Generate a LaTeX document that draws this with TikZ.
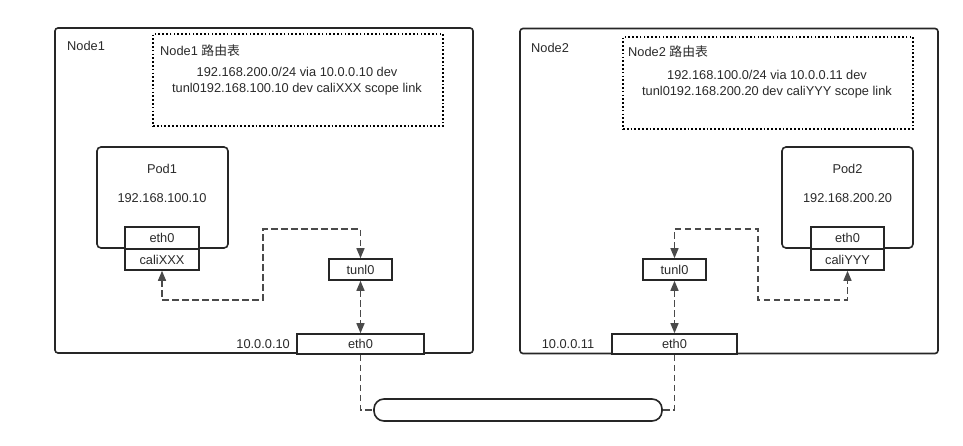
\documentclass[tikz,border=0pt]{standalone}
\usepackage{fontspec}
\setmainfont{Liberation Sans}
\newfontfamily\cjk{Noto Sans CJK SC}
\usetikzlibrary{arrows.meta}
\definecolor{txt}{HTML}{2A2A2A}
\definecolor{edge}{HTML}{262626}
\definecolor{conn}{HTML}{4A4A4A}
\tikzset{
  hostbox/.style={draw=edge, line width=1.6pt, rounded corners=3pt, inner sep=0pt},
  routebox/.style={draw=black, line width=1.7pt, dash pattern=on 1.7pt off 2.1pt, inner sep=0pt},
  podbox/.style={draw=edge, line width=1.6pt, rounded corners=4pt, inner sep=0pt},
  ifbox/.style={draw=edge, line width=1.6pt, fill=white, inner sep=0pt, font=\fontsize{12.8}{14}\selectfont, text=txt},
  pill/.style={draw=edge, line width=1.6pt, rounded corners=10pt, inner sep=0pt, fill=white},
  lbl/.style={font=\fontsize{12.8}{16}\selectfont, text=txt, inner sep=0pt},
  connline/.style={draw=conn, line width=1.4pt, dash pattern=on 6.5pt off 3.5pt},
  tip/.style={arrows={Triangle[length=10pt,width=8pt]-Triangle[length=10pt,width=8pt]}},
}
\begin{document}
\begin{tikzpicture}[x=1pt,y=-1pt]
\useasboundingbox (0,0) rectangle (963,446);
\fill[white] (0,0) rectangle (963,446);

% Node1
\node[hostbox, minimum width=418, minimum height=325] (node1) at (264,190.5) {};
\node[lbl, anchor=west] (n1lbl) at (67,46) {Node1};
\node[routebox, minimum width=290, minimum height=92] (rt1) at (298,80) {};
\node[lbl, anchor=west] (rt1t) at (160,51) {Node1 {\cjk 路由表}};
\node[lbl, align=center] (rt1l) at (297,81) {192.168.200.0/24 via 10.0.0.10 dev\\tunl0192.168.100.10 dev caliXXX scope link};
\node[podbox, minimum width=131, minimum height=101] (pod1) at (162.5,197.5) {};
\node[lbl] (pod1n) at (162,169) {Pod1};
\node[lbl] (pod1ip) at (162,198) {192.168.100.10};
\node[ifbox, minimum width=74, minimum height=22] (eth1p) at (162,238) {eth0};
\node[ifbox, minimum width=74, minimum height=21] (cali1) at (162,259.5) {caliXXX};
\node[ifbox, minimum width=63, minimum height=21] (tunl1) at (360.5,269.5) {tunl0};
\node[ifbox, minimum width=127, minimum height=20] (eth1) at (360.5,344) {eth0};
\node[lbl, anchor=east] (ip1) at (290,344) {10.0.0.10};

% Node2
\node[hostbox, minimum width=418, minimum height=325] (node2) at (729,191) {};
\node[lbl, anchor=west] (n2lbl) at (531,48) {Node2};
\node[routebox, minimum width=290, minimum height=92] (rt2) at (768,83) {};
\node[lbl, anchor=west] (rt2t) at (628,52) {Node2 {\cjk 路由表}};
\node[lbl, align=center] (rt2l) at (767,84) {192.168.100.0/24 via 10.0.0.11 dev\\tunl0192.168.200.20 dev caliYYY scope link};
\node[podbox, minimum width=131, minimum height=101] (pod2) at (847.5,197.5) {};
\node[lbl] (pod2n) at (847.5,169) {Pod2};
\node[lbl] (pod2ip) at (847.5,198) {192.168.200.20};
\node[ifbox, minimum width=73, minimum height=22] (eth2p) at (847.5,238) {eth0};
\node[ifbox, minimum width=73, minimum height=21] (cali2) at (847.5,259.5) {caliYYY};
\node[ifbox, minimum width=63, minimum height=21] (tunl2) at (674.5,269.5) {tunl0};
\node[ifbox, minimum width=125, minimum height=20] (eth2) at (674.5,344) {eth0};
\node[lbl] (ip2) at (568,344) {10.0.0.11};

% link pill
\node[pill, minimum width=288, minimum height=22] (wire) at (518,410) {};

% connectors
\coordinate (a1) at (263,300);
\coordinate (a2) at (263,229);
\draw[connline, tip] (cali1.south) -- (cali1.south |- a1) -- (a1) -- (a2) -- (tunl1.north |- a2) -- (tunl1.north);
\draw[connline, tip] (tunl1.south) -- (eth1.north);

\coordinate (b1) at (758,229);
\coordinate (b2) at (758,300);
\draw[connline, tip] (tunl2.north) -- (tunl2.north |- b1) -- (b1) -- (b2) -- (cali2.south |- b2) -- (cali2.south);
\draw[connline, tip] (tunl2.south) -- (eth2.north);

\draw[connline] (eth1.south) -- (eth1.south |- wire.west) -- (wire.west);
\draw[connline] (eth2.south) -- (eth2.south |- wire.east) -- (wire.east);
\end{tikzpicture}
\end{document}
